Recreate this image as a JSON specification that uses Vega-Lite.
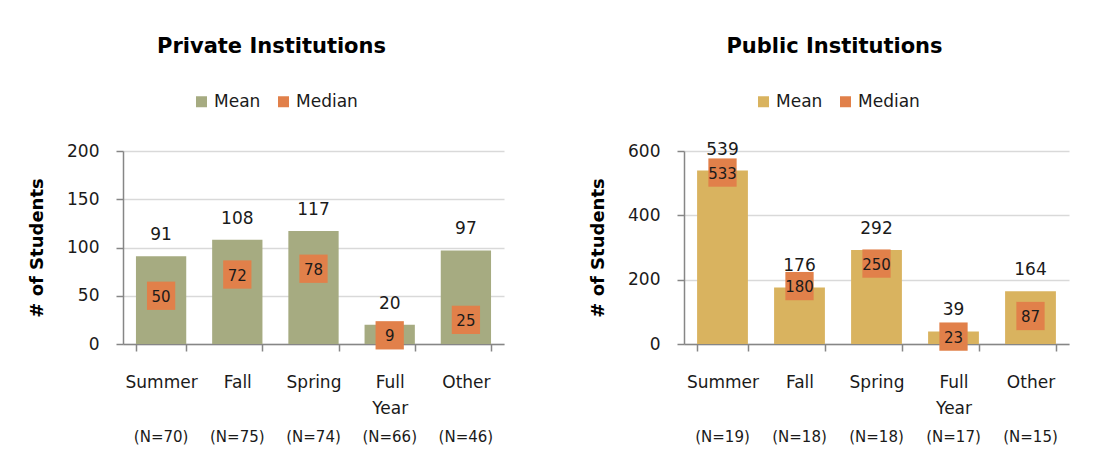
{
 "$schema": "https://vega.github.io/schema/vega-lite/v6.json",
 "background": "white",
 "padding": {"left": 28, "top": 36, "right": 5, "bottom": 5},
 "datasets": {
  "private": [
   {"category": "Summer (N=70)", "mean": 91, "median": 50},
   {"category": "Fall (N=75)", "mean": 108, "median": 72},
   {"category": "Spring (N=74)", "mean": 117, "median": 78},
   {"category": "Full Year (N=66)", "mean": 20, "median": 9},
   {"category": "Other (N=46)", "mean": 97, "median": 25}
  ],
  "public": [
   {"category": "Summer (N=19)", "mean": 539, "median": 533},
   {"category": "Fall (N=18)", "mean": 176, "median": 180},
   {"category": "Spring (N=18)", "mean": 292, "median": 250},
   {"category": "Full Year (N=17)", "mean": 39, "median": 23},
   {"category": "Other (N=15)", "mean": 164, "median": 87}
  ]
 },
 "bounds": "flush",
 "spacing": 180,
 "hconcat": [
  {
   "width": 381, "height": 193,
   "data": {"name": "private"},
   "title": {"text": "Private Institutions", "anchor": "middle", "frame": "group", "dx": -42, "offset": 36},
   "layer": [
    {
     "encoding": {
      "x": {"field": "category", "type": "nominal", "sort": null,
        "scale": {"type": "band", "paddingInner": 0.34, "paddingOuter": 0.17},
        "axis": {"title": null, "labelAngle": 0, "labelExpr": "split(substring(datum.label, 0, indexof(datum.label, ' (')), ' ')", "tickBand": "extent", "tickSize": 7, "labelPadding": 23, "labelFontSize": 17, "labelLineHeight": 26, "domainColor": "#868686", "domainWidth": 1.5, "tickColor": "#868686", "tickWidth": 1.5, "grid": false}}
     },
     "layer": [
      {"mark": {"type": "bar"},
       "encoding": {
        "y": {"field": "mean", "type": "quantitative", "scale": {"domain": [0, 200]},
          "axis": {"title": "# of Students", "values": [0, 50, 100, 150, 200]}},
        "color": {"datum": "Mean", "type": "nominal", "scale": {"domain": ["Mean", "Median"], "range": ["#a6ab81", "#e1804a"]},
          "legend": {"orient": "none", "legendX": 70, "legendY": -58}}
       }},
      {"mark": {"type": "square", "size": 800, "opacity": 1},
       "encoding": {
        "y": {"field": "median", "type": "quantitative"},
        "color": {"datum": "Median", "type": "nominal"}
       }},
      {"mark": {"type": "text", "fontSize": 15, "baseline": "middle", "dy": 1, "color": "#1a1a1a"},
       "encoding": {
        "y": {"field": "median", "type": "quantitative"},
        "text": {"field": "median", "type": "quantitative"}
       }}
     ]
    },
    {
     "mark": {"type": "text", "fontSize": 17, "baseline": "alphabetic", "dy": -16, "color": "#1a1a1a"},
     "encoding": {
      "x": {"field": "category", "type": "nominal", "sort": null,
        "scale": {"type": "band", "paddingInner": 0.34, "paddingOuter": 0.17},
        "axis": {"title": null, "orient": "bottom", "offset": 81, "domain": false, "ticks": false, "labelPadding": 4, "labelFontSize": 15, "labelAngle": 0, "grid": false, "labelExpr": "substring(datum.label, indexof(datum.label, '('))"}},
      "y": {"field": "mean", "type": "quantitative"},
      "text": {"field": "mean", "type": "quantitative"}
     }
    }
   ],
   "resolve": {"scale": {"x": "independent"}, "axis": {"x": "independent"}}
  },
  {
   "width": 385, "height": 193,
   "data": {"name": "public"},
   "title": {"text": "Public Institutions", "anchor": "middle", "frame": "group", "dx": -42, "offset": 36},
   "layer": [
    {
     "encoding": {
      "x": {"field": "category", "type": "nominal", "sort": null,
        "scale": {"type": "band", "paddingInner": 0.34, "paddingOuter": 0.17},
        "axis": {"title": null, "labelAngle": 0, "labelExpr": "split(substring(datum.label, 0, indexof(datum.label, ' (')), ' ')", "tickBand": "extent", "tickSize": 7, "labelPadding": 23, "labelFontSize": 17, "labelLineHeight": 26, "domainColor": "#868686", "domainWidth": 1.5, "tickColor": "#868686", "tickWidth": 1.5, "grid": false}}
     },
     "layer": [
      {"mark": {"type": "bar"},
       "encoding": {
        "y": {"field": "mean", "type": "quantitative", "scale": {"domain": [0, 600]},
          "axis": {"title": "# of Students", "values": [0, 200, 400, 600]}},
        "color": {"datum": "Mean", "type": "nominal", "scale": {"domain": ["Mean", "Median"], "range": ["#d9b35f", "#e1804a"]},
          "legend": {"orient": "none", "legendX": 71, "legendY": -58}}
       }},
      {"mark": {"type": "square", "size": 800, "opacity": 1},
       "encoding": {
        "y": {"field": "median", "type": "quantitative"},
        "color": {"datum": "Median", "type": "nominal"}
       }},
      {"mark": {"type": "text", "fontSize": 15, "baseline": "middle", "dy": 1, "color": "#1a1a1a"},
       "encoding": {
        "y": {"field": "median", "type": "quantitative"},
        "text": {"field": "median", "type": "quantitative"}
       }}
     ]
    },
    {
     "mark": {"type": "text", "fontSize": 17, "baseline": "alphabetic", "dy": -16, "color": "#1a1a1a"},
     "encoding": {
      "x": {"field": "category", "type": "nominal", "sort": null,
        "scale": {"type": "band", "paddingInner": 0.34, "paddingOuter": 0.17},
        "axis": {"title": null, "orient": "bottom", "offset": 81, "domain": false, "ticks": false, "labelPadding": 4, "labelFontSize": 15, "labelAngle": 0, "grid": false, "labelExpr": "substring(datum.label, indexof(datum.label, '('))"}},
      "y": {"field": "mean", "type": "quantitative"},
      "text": {"field": "mean", "type": "quantitative"}
     }
    }
   ],
   "resolve": {"scale": {"x": "independent"}, "axis": {"x": "independent"}}
  }
 ],
 "resolve": {"scale": {"color": "independent", "y": "independent", "x": "independent"}, "legend": {"color": "independent"}},
 "config": {
  "font": "DejaVu Sans",
  "view": {"stroke": null},
  "title": {"fontSize": 21, "fontWeight": "bold", "color": "#000000", "font": "DejaVu Sans"},
  "axis": {"labelColor": "#1a1a1a", "labelFont": "DejaVu Sans", "titleFont": "DejaVu Sans"},
  "axisY": {"titleFontSize": 18, "titleFontWeight": "bold", "titleColor": "#000000", "titlePadding": 20, "grid": true, "gridColor": "#d9d9d9", "gridWidth": 1.5, "domainColor": "#868686", "domainWidth": 1.5, "tickColor": "#868686", "tickWidth": 1.5, "tickSize": 7, "labelPadding": 17, "labelFontSize": 17},
  "legend": {"direction": "horizontal", "title": null, "symbolType": "square", "symbolSize": 121, "symbolStrokeWidth": 0, "labelFontSize": 17, "labelColor": "#1a1a1a", "labelFont": "DejaVu Sans", "columnPadding": 14, "labelOffset": 4, "padding": 0}
 }
}
